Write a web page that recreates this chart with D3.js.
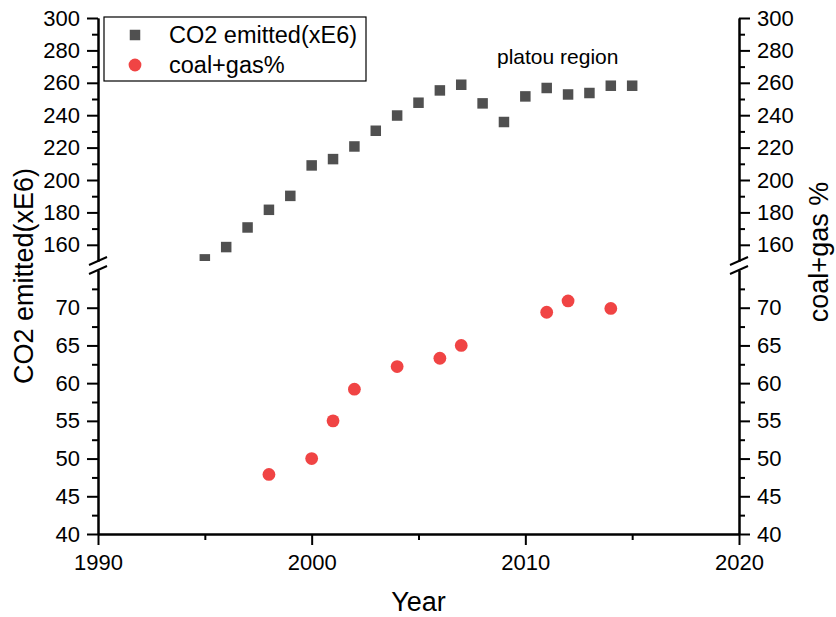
<!DOCTYPE html>
<html>
<head>
<meta charset="utf-8">
<script src="https://cdn.jsdelivr.net/npm/d3@7"></script>
<style>
  body { margin: 0; background: #fff; }
  svg { font-family: Arial, "Liberation Sans", sans-serif; }
</style>
</head>
<body>
<svg id="chart" width="836" height="617"></svg>
<script>
"use strict";

// CO2 emitted (xE6), one value per year
const co2Years = [1995, 1996, 1997, 1998, 1999, 2000, 2001, 2002, 2003, 2004, 2005,
  2006, 2007, 2008, 2009, 2010, 2011, 2012, 2013, 2014, 2015];
const co2Values = [151, 158.6, 170.7, 181.6, 190.2, 209, 212.9, 220.7, 230.4, 239.8, 247.7,
  255.3, 258.8, 247.3, 235.8, 251.6, 256.8, 252.8, 253.7, 258.2, 258.2];

// coal+gas share, only some years
const mixYears = [1998, 2000, 2001, 2002, 2004, 2006, 2007, 2011, 2012, 2014];
const mixValues = [47.9, 50.0, 55.0, 59.2, 62.2, 63.3, 65.0, 69.4, 70.9, 69.9];

const xTicks = [1990, 2000, 2010, 2020];
const xMinorTicks = [1995, 2005, 2015];
const upperTicks = [160, 180, 200, 220, 240, 260, 280, 300];
const upperMinorTicks = [170, 190, 210, 230, 250, 270, 290];
const lowerTicks = [40, 45, 50, 55, 60, 65, 70];
const lowerMinorTicks = [42.5, 47.5, 52.5, 57.5, 62.5, 67.5, 72.5];

const seriesNames = ["CO2 emitted(xE6)", "coal+gas%"];
const colors = { co2: "#505050", mix: "#f04444" };

const svg = d3.select("#chart");

const left = 98, right = 739;
const x = d3.scaleLinear().domain([1990, 2020]).range([left, right]);
// broken y axis: two segments
const yUpper = d3.scaleLinear().domain([150, 300]).range([261, 18]);
const yLower = d3.scaleLinear().domain([40, 75]).range([534, 270]);

function styleAxis(g, fontSize) {
  g.attr("font-size", fontSize).attr("font-family", "Arial, 'Liberation Sans', sans-serif");
  g.selectAll("path.domain").attr("stroke", "#000").attr("stroke-width", 2);
  g.selectAll(".tick line").attr("stroke", "#000").attr("stroke-width", 2);
  g.selectAll(".tick text").attr("fill", "#000");
}

function drawAxis(axisFn, scale, major, minor, transform) {
  svg.append("g")
    .attr("transform", transform)
    .call(axisFn(scale).tickValues(minor).tickSize(6).tickSizeOuter(0).tickFormat(""))
    .call(g => styleAxis(g, 22));
  svg.append("g")
    .attr("transform", transform)
    .call(axisFn(scale).tickValues(major).tickSize(11).tickSizeOuter(0).tickPadding(7))
    .call(g => styleAxis(g, 22));
}

// left + right, both segments
drawAxis(d3.axisLeft, yUpper, upperTicks, upperMinorTicks, `translate(${left},0)`);
drawAxis(d3.axisLeft, yLower, lowerTicks, lowerMinorTicks, `translate(${left},0)`);
drawAxis(d3.axisRight, yUpper, upperTicks, upperMinorTicks, `translate(${right},0)`);
drawAxis(d3.axisRight, yLower, lowerTicks, lowerMinorTicks, `translate(${right},0)`);

// bottom
svg.append("g")
  .attr("transform", `translate(0,534)`)
  .call(d3.axisBottom(x).tickValues(xMinorTicks).tickSize(6).tickSizeOuter(0).tickFormat(""))
  .call(g => styleAxis(g, 22));
svg.append("g")
  .attr("transform", `translate(0,534)`)
  .call(d3.axisBottom(x).tickValues(xTicks).tickSize(11).tickSizeOuter(0).tickPadding(9).tickFormat(d3.format("d")))
  .call(g => styleAxis(g, 22));

// break marks
const breakYs = [yUpper(150), yLower(75)];
[left, right].forEach(ax => {
  breakYs.forEach(by => {
    svg.append("line")
      .attr("x1", ax - 9).attr("y1", by + 4)
      .attr("x2", ax + 9).attr("y2", by - 4)
      .attr("stroke", "#000").attr("stroke-width", 2);
  });
});

// clip the upper segment so points below 150 get cut
svg.append("clipPath").attr("id", "clipUpper")
  .append("rect").attr("x", left).attr("y", 18).attr("width", right - left).attr("height", 261 - 18);

const sq = 10.5;
svg.append("g").attr("clip-path", "url(#clipUpper)")
  .selectAll("rect")
  .data(co2Years.map((yr, i) => ({ yr, v: co2Values[i] })))
  .join("rect")
  .attr("x", d => x(d.yr) - sq / 2)
  .attr("y", d => yUpper(d.v) - sq / 2)
  .attr("width", sq).attr("height", sq)
  .attr("fill", colors.co2);

svg.append("g")
  .selectAll("circle")
  .data(mixYears.map((yr, i) => ({ yr, v: mixValues[i] })))
  .join("circle")
  .attr("cx", d => x(d.yr))
  .attr("cy", d => yLower(d.v))
  .attr("r", 6.4)
  .attr("fill", colors.mix);

// annotation
svg.append("text")
  .attr("x", 497).attr("y", 64)
  .attr("font-size", 21)
  .text("platou region");

// legend
const legend = svg.append("g").attr("transform", "translate(104,17)");
legend.append("rect")
  .attr("width", 262).attr("height", 64)
  .attr("fill", "#fff").attr("stroke", "#000").attr("stroke-width", 1.2);
legend.append("rect")
  .attr("x", 31 - sq / 2).attr("y", 18 - sq / 2)
  .attr("width", sq).attr("height", sq).attr("fill", colors.co2);
legend.append("circle")
  .attr("cx", 31).attr("cy", 48).attr("r", 6.4).attr("fill", colors.mix);
legend.selectAll("text.lbl")
  .data(seriesNames)
  .join("text")
  .attr("class", "lbl")
  .attr("x", 65)
  .attr("y", (d, i) => 18 + i * 30)
  .attr("dy", "0.35em")
  .attr("font-size", 23.5)
  .text(d => d);

// axis titles
svg.append("text")
  .attr("x", (left + right) / 2).attr("y", 611)
  .attr("text-anchor", "middle").attr("font-size", 27)
  .text("Year");

svg.append("text")
  .attr("transform", "translate(33,276) rotate(-90)")
  .attr("text-anchor", "middle").attr("font-size", 27)
  .text("CO2 emitted(xE6)");

svg.append("text")
  .attr("transform", "translate(828,252) rotate(-90)")
  .attr("text-anchor", "middle").attr("font-size", 27)
  .text("coal+gas %");
</script>
</body>
</html>
